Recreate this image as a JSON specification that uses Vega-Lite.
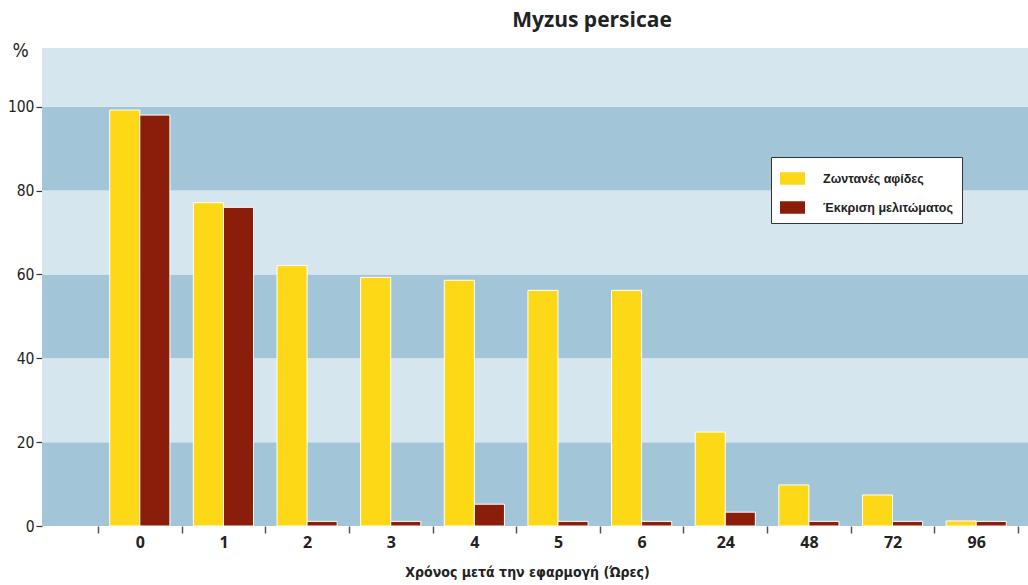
{
  "$schema": "https://vega.github.io/schema/vega-lite/v6.json",
  "autosize": {"type": "none"},
  "padding": {"left": 42, "top": 48, "right": 0, "bottom": 59},
  "width": 986,
  "height": 478,
  "background": "white",
  "title": {
    "text": "Myzus persicae",
    "font": "Open Sans",
    "fontSize": 21,
    "fontWeight": "bold",
    "color": "#222222",
    "anchor": "middle",
    "dx": 57,
    "offset": 10
  },
  "config": {
    "view": {"stroke": null},
    "axis": {"grid": false}
  },
  "datasets": {
    "bands": [
      {"lo": 0, "hi": 20, "shade": "dark"},
      {"lo": 20, "hi": 40, "shade": "light"},
      {"lo": 40, "hi": 60, "shade": "dark"},
      {"lo": 60, "hi": 80, "shade": "light"},
      {"lo": 80, "hi": 100, "shade": "dark"},
      {"lo": 100, "hi": 114, "shade": "light"}
    ],
    "bars": [
      {"t": "0", "s": "Ζωντανές αφίδες", "o": 0, "v": 99.2},
      {"t": "0", "s": "Έκκριση μελιτώματος", "o": 1, "v": 98},
      {"t": "1", "s": "Ζωντανές αφίδες", "o": 0, "v": 77.1},
      {"t": "1", "s": "Έκκριση μελιτώματος", "o": 1, "v": 76},
      {"t": "2", "s": "Ζωντανές αφίδες", "o": 0, "v": 62.1},
      {"t": "2", "s": "Έκκριση μελιτώματος", "o": 1, "v": 1.1},
      {"t": "3", "s": "Ζωντανές αφίδες", "o": 0, "v": 59.3},
      {"t": "3", "s": "Έκκριση μελιτώματος", "o": 1, "v": 1.1},
      {"t": "4", "s": "Ζωντανές αφίδες", "o": 0, "v": 58.6},
      {"t": "4", "s": "Έκκριση μελιτώματος", "o": 1, "v": 5.2},
      {"t": "5", "s": "Ζωντανές αφίδες", "o": 0, "v": 56.2},
      {"t": "5", "s": "Έκκριση μελιτώματος", "o": 1, "v": 1.1},
      {"t": "6", "s": "Ζωντανές αφίδες", "o": 0, "v": 56.2},
      {"t": "6", "s": "Έκκριση μελιτώματος", "o": 1, "v": 1.1},
      {"t": "24", "s": "Ζωντανές αφίδες", "o": 0, "v": 22.4},
      {"t": "24", "s": "Έκκριση μελιτώματος", "o": 1, "v": 3.3},
      {"t": "48", "s": "Ζωντανές αφίδες", "o": 0, "v": 9.8},
      {"t": "48", "s": "Έκκριση μελιτώματος", "o": 1, "v": 1.1},
      {"t": "72", "s": "Ζωντανές αφίδες", "o": 0, "v": 7.4},
      {"t": "72", "s": "Έκκριση μελιτώματος", "o": 1, "v": 1.1},
      {"t": "96", "s": "Ζωντανές αφίδες", "o": 0, "v": 1.2},
      {"t": "96", "s": "Έκκριση μελιτώματος", "o": 1, "v": 1.1}
    ]
  },
  "layer": [
    {
      "data": {"name": "bands"},
      "mark": {"type": "rect"},
      "encoding": {
        "y": {"field": "lo", "type": "quantitative", "scale": {"domain": [0, 114], "nice": false}},
        "y2": {"field": "hi"},
        "fill": {"field": "shade", "type": "nominal", "scale": {"domain": ["dark", "light"], "range": ["#A3C5D8", "#D5E6EE"]}, "legend": null}
      }
    },
    {
      "data": {"name": "bars"},
      "mark": {"type": "bar", "stroke": "white", "strokeWidth": 1},
      "encoding": {
        "x": {
          "field": "t",
          "type": "ordinal",
          "sort": ["0", "1", "2", "3", "4", "5", "6", "24", "48", "72", "96"],
          "scale": {"range": [56, 976], "paddingInner": 0, "paddingOuter": 0},
          "axis": {
            "title": "Χρόνος μετά την εφαρμογή (Ώρες)",
            "titleFont": "'DejaVu Sans Condensed', 'Liberation Sans', sans-serif",
            "titleFontSize": 14,
            "titleFontWeight": "bold",
            "titleColor": "#222222",
            "titlePadding": 15,
            "titleX": 485,
            "titleAnchor": "middle",
            "labelFont": "Open Sans",
            "labelFontSize": 16,
            "labelFontWeight": "bold",
            "labelColor": "#222222",
            "labelAngle": 0,
            "labelPadding": 1,
            "domain": false,
            "tickBand": "extent",
            "tickSize": 7,
            "tickColor": "#555555",
            "tickWidth": 1.5
          }
        },
        "xOffset": {"field": "o", "type": "ordinal", "scale": {"paddingInner": 0, "paddingOuter": 0.39}},
        "y": {
          "field": "v",
          "type": "quantitative",
          "scale": {"domain": [0, 114], "nice": false},
          "axis": {
            "values": [0, 20, 40, 60, 80, 100],
            "title": "%",
            "titleAngle": 0,
            "titleFont": "'DejaVu Sans Condensed', 'Liberation Sans', sans-serif",
            "titleFontSize": 19,
            "titleFontWeight": "normal",
            "titleColor": "#222222",
            "titleX": -22,
            "titleY": 12,
            "titleAlign": "center",
            "labelFont": "'DejaVu Sans Condensed', 'Liberation Sans', sans-serif",
            "labelFontSize": 15.5,
            "labelFontWeight": "normal",
            "labelColor": "#222222",
            "labelPadding": 2,
            "domain": false,
            "tickSize": 6,
            "tickColor": "#333333",
            "tickWidth": 1.2
          }
        },
        "color": {
          "field": "s",
          "type": "nominal",
          "scale": {"domain": ["Ζωντανές αφίδες", "Έκκριση μελιτώματος"], "range": ["#FDD816", "#8B1E0A"]},
          "legend": {
            "title": null,
            "orient": "none",
            "legendX": 729,
            "legendY": 109,
            "fillColor": "white",
            "strokeColor": "#333333",
            "padding": 9,
            "symbolType": "M-1,-0.5H1V0.5H-1Z",
            "symbolSize": 625,
            "symbolStrokeWidth": 0,
            "labelFont": "Liberation Sans",
            "labelFontSize": 12.5,
            "labelFontWeight": "bold",
            "labelColor": "#222222",
            "labelOffset": 18,
            "rowPadding": 10
          }
        }
      }
    }
  ]
}
